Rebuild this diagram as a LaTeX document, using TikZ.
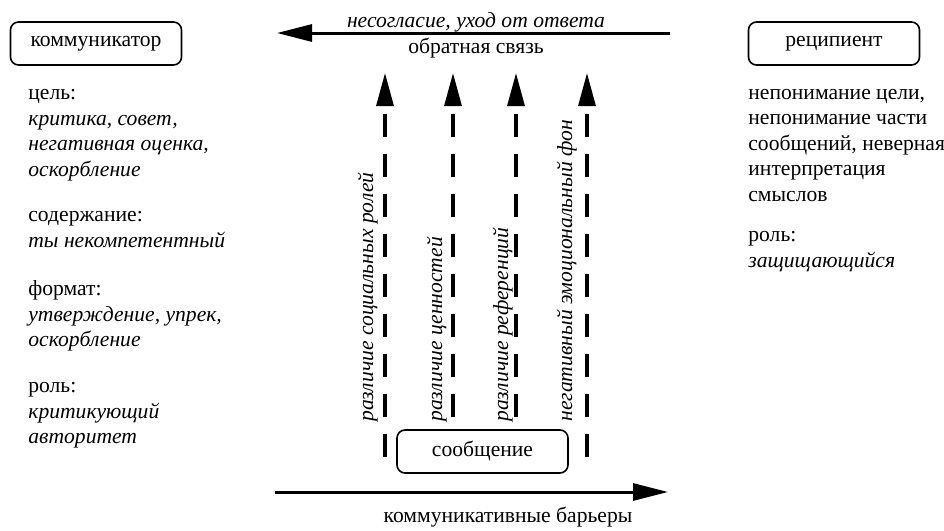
\documentclass[tikz,border=0pt]{standalone}
\usepackage{fontspec}
\setmainfont{Liberation Serif}
\usetikzlibrary{arrows.meta}
\begin{document}
\begin{tikzpicture}[x=0.5pt,y=-0.5pt,font=\fontsize{10.8}{12.75}\selectfont,party/.style={draw,rounded corners=4pt,minimum width=85.5pt,minimum
height=21.5pt,line width=0.8pt,inner sep=0pt,fill=white},info/.style={align=left,anchor=base west,inner sep=0pt},flow/.style={line width=1.5pt,-{Triangle[length=17.5pt,width=8.5pt]}},barrier/.style={line
width=1.6pt,dash pattern=on 11.5pt off 8.5pt,-{Triangle[length=16.5pt,width=8.5pt]}},barlabel/.style={rotate=90,anchor=base west,inner sep=0pt,font=\fontsize{10.8}{12.75}\selectfont\itshape}]
\useasboundingbox (0,0) rectangle (944,531);
\node[party] (comm) at (96,43.5) {коммуникатор};
\node[party] (recip) at (834,43.5) {реципиент};
% left column (anchored at the last line)
\node[info] (goal) at (28,176) {цель:\\ \textit{критика, совет,}\\ \textit{негативная оценка,}\\ \textit{оскорбление}};
\node[info] (content) at (28,247) {содержание:\\ \textit{ты некомпетентный}};
\node[info] (format) at (28,346.5) {формат:\\ \textit{утверждение, упрек,}\\ \textit{оскорбление}};
\node[info] (role) at (28,443.5) {роль:\\ \textit{критикующий}\\ \textit{авторитет}};
% right column
\node[info] (misread) at (748,201) {непонимание цели,\\ непонимание части\\ сообщений, неверная\\ интерпретация\\ смыслов};
\node[info] (defrole) at (748,267) {роль:\\ \textit{защищающийся}};
% feedback
\coordinate (fbR) at (670,33);
\coordinate (fbL) at (277,33);
\draw[flow] (fbR) -- (fbL);
\node[anchor=base,inner sep=0pt] (reply) at (476,27) {\itshape несогласие, уход от ответа};
\node[anchor=base,inner sep=0pt] (fb) at (476,53) {обратная связь};
% barriers
\foreach \x/\lx/\txt [count=\i] in {385/373/различие социальных ролей,453/442/различие ценностей,516/508/различие референций,587/572/негативный эмоциональный фон}{
  \coordinate (bb\i) at (\x,457);
  \coordinate (bt\i) at (\x,73);
  \draw[barrier] (bb\i) -- (bt\i);
  \node[barlabel] (bl\i) at (\lx,422) {\txt};
}
\node[party] (msg) at (482.5,451.5) {сообщение};
\coordinate (cbL) at (275,492);
\coordinate (cbR) at (668,492);
\draw[flow] (cbL) -- (cbR);
\node[anchor=base,inner sep=0pt] (cb) at (508,522) {коммуникативные барьеры};
\end{tikzpicture}
\end{document}
